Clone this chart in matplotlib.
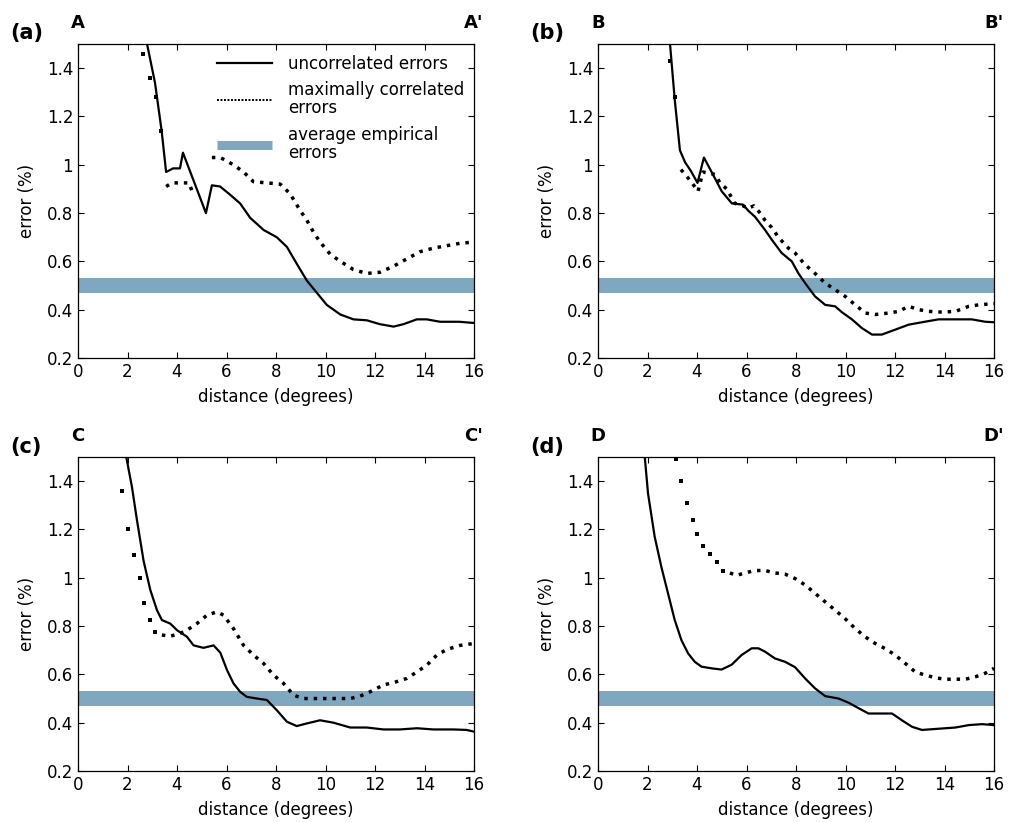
import numpy as np
import matplotlib
matplotlib.use("Agg")
import matplotlib.pyplot as plt
from matplotlib.lines import Line2D

nan = np.nan

# panel (a)
a_unc_x = [2.79, 3.11, 3.38, 3.56, 3.84, 4.12, 4.24, 5.17, 5.41, 5.74, 6.1, 6.55, 6.96, 7.5, 8.03,
           8.44, 8.84, 9.25, 9.65, 10.05, 10.6, 11.13, 11.67, 12.2, 12.75, 13.15, 13.69, 14.09,
           14.63, 15.4, 16.0]
a_unc_y = [1.5, 1.34, 1.14, 0.97, 0.985, 0.985, 1.05, 0.80, 0.915, 0.91, 0.88, 0.84, 0.78, 0.73, 0.70,
           0.66, 0.59, 0.52, 0.47, 0.42, 0.38, 0.36, 0.356, 0.34, 0.33, 0.34, 0.36, 0.36,
           0.35, 0.35, 0.345]
a_max_x = [2.63, 2.91, 3.15, 3.35, 3.56, 3.8, 4.04, 4.48, 4.65, nan, 5.41, 5.75, 6.28, 6.69, 7.09,
           7.63, 8.17, 8.57, 8.98, 9.25, 9.52, 9.78, 10.19, 10.6, 11.13, 11.67, 12.2, 12.75,
           13.28, 13.82, 14.36, 14.9, 15.44, 16.0]
a_max_y = [1.46, 1.36, 1.28, 1.14, 0.91, 0.925, 0.925, 0.925, 0.88, nan, 1.03, 1.03, 1.0, 0.97, 0.93,
           0.925, 0.92, 0.88, 0.81, 0.77, 0.72, 0.68, 0.63, 0.60, 0.566, 0.55, 0.555, 0.58,
           0.61, 0.64, 0.655, 0.665, 0.675, 0.68]

# panel (b)
b_unc_x = [2.91, 3.1, 3.31, 3.52, 3.75, 4.02, 4.28, 4.59, 5.0, 5.41, 5.86, 6.07, 6.34, 6.75, 7.02,
           7.42, 7.83, 8.1, 8.37, 8.77, 9.18, 9.58, 9.85, 10.26, 10.66, 11.07, 11.47, 12.0, 12.55,
           13.2, 13.76, 14.57, 15.1, 15.65, 16.0]
b_unc_y = [1.5, 1.27, 1.06, 1.01, 0.975, 0.925, 1.03, 0.97, 0.89, 0.84, 0.835, 0.81, 0.785, 0.73, 0.69,
           0.635, 0.60, 0.55, 0.51, 0.455, 0.42, 0.414, 0.39, 0.36, 0.324, 0.297, 0.297, 0.317, 0.338,
           0.35, 0.36, 0.36, 0.36, 0.35, 0.348]
b_max_x = [2.91, 3.1, 3.35, 3.6, 3.8, 4.04, 4.24, 4.73, 4.93, 5.2, 5.53, 5.86, 6.06, 6.3, 6.55,
           6.75, 7.02, 7.29, 7.69, 7.96, 8.37, 8.77, 9.18, 9.58, 9.99, 10.39, 10.8, 11.2, 11.74,
           12.15, 12.55, 12.96, 13.36, 13.9, 14.44, 14.98, 15.38, 16.0]
b_max_y = [1.43, 1.28, 0.98, 0.95, 0.925, 0.89, 0.97, 0.96, 0.925, 0.90, 0.84, 0.83, 0.82, 0.83, 0.80,
           0.77, 0.74, 0.70, 0.655, 0.635, 0.586, 0.55, 0.51, 0.483, 0.455, 0.42, 0.386, 0.38, 0.386,
           0.393, 0.414, 0.40, 0.393, 0.39, 0.393, 0.414, 0.42, 0.425]

# panel (c)
c_unc_x = [1.95, 2.18, 2.38, 2.65, 2.92, 3.19, 3.39, 3.73, 4.0, 4.4, 4.67, 5.07, 5.48, 5.75, 6.02,
           6.28, 6.55, 6.82, 7.23, 7.63, 8.03, 8.44, 8.84, 9.25, 9.78, 10.32, 11.0, 11.67, 12.34,
           13.0, 13.7, 14.36, 15.17, 15.7, 16.0]
c_unc_y = [1.5, 1.376, 1.24, 1.07, 0.95, 0.866, 0.825, 0.81, 0.783, 0.756, 0.72, 0.71, 0.72, 0.69, 0.618,
           0.563, 0.528, 0.507, 0.50, 0.494, 0.452, 0.404, 0.386, 0.397, 0.41, 0.40, 0.38, 0.38, 0.372,
           0.372, 0.377, 0.372, 0.372, 0.37, 0.363]
c_max_x = [1.78, 2.0, 2.25, 2.49, 2.68, 2.92, 3.12, 3.39, 3.73, 4.13, 4.4, 4.8, 5.21, 5.61, 5.88,
           6.28, 6.69, 7.09, 7.5, 7.9, 8.3, 8.71, 9.11, 9.65, 10.32, 11.0, 11.4, 11.8, 12.34,
           12.88, 13.28, 13.69, 14.09, 14.5, 14.9, 15.44, 16.0]
c_max_y = [1.36, 1.2, 1.093, 0.997, 0.896, 0.824, 0.776, 0.763, 0.758, 0.77, 0.783, 0.81, 0.845, 0.859, 0.845,
           0.79, 0.72, 0.68, 0.645, 0.597, 0.563, 0.514, 0.50, 0.50, 0.50, 0.50, 0.51, 0.528, 0.556,
           0.57, 0.583, 0.61, 0.638, 0.68, 0.703, 0.72, 0.728]

# panel (d)
d_unc_x = [1.89, 2.02, 2.29, 2.56, 2.83, 3.1, 3.37, 3.64, 3.91, 4.18, 4.59, 4.99, 5.4, 5.8, 6.21,
           6.48, 6.75, 7.15, 7.56, 7.96, 8.37, 8.77, 9.18, 9.72, 10.12, 10.53, 10.93, 11.34, 11.88,
           12.28, 12.69, 13.09, 13.63, 14.44, 14.98, 15.52, 16.0]
d_unc_y = [1.5, 1.35, 1.17, 1.045, 0.935, 0.825, 0.742, 0.687, 0.652, 0.632, 0.625, 0.62, 0.64, 0.68, 0.708,
           0.708, 0.694, 0.666, 0.652, 0.63, 0.583, 0.542, 0.51, 0.50, 0.483, 0.46, 0.438, 0.438, 0.438,
           0.41, 0.383, 0.37, 0.374, 0.38, 0.39, 0.394, 0.39]
d_max_x = [3.17, 3.35, 3.58, 3.85, 4.02, 4.25, 4.52, 4.79, 5.06, 5.33, 5.6, 5.94, 6.34, 6.75, 7.15,
           7.56, 7.96, 8.37, 8.77, 9.18, 9.58, 9.99, 10.39, 10.8, 11.2, 11.6, 12.01, 12.42, 12.82,
           13.22, 13.63, 14.04, 14.44, 14.84, 15.25, 15.65, 16.0]
d_max_y = [1.49, 1.4, 1.31, 1.24, 1.18, 1.13, 1.1, 1.066, 1.03, 1.02, 1.01, 1.02, 1.03, 1.03, 1.02,
           1.015, 0.997, 0.97, 0.936, 0.9, 0.866, 0.83, 0.79, 0.755, 0.728, 0.707, 0.68, 0.645, 0.61,
           0.597, 0.586, 0.58, 0.58, 0.58, 0.59, 0.605, 0.625]

panel_tags = ["(a)", "(b)", "(c)", "(d)"]
end_labels = [("A", "A'"), ("B", "B'"), ("C", "C'"), ("D", "D'")]
band_lo, band_hi = 0.47, 0.53
x_ticks = [0, 2, 4, 6, 8, 10, 12, 14, 16]
y_ticks = [0.2, 0.4, 0.6, 0.8, 1.0, 1.2, 1.4]
y_tick_labels = ["0.2", "0.4", "0.6", "0.8", "1", "1.2", "1.4"]
legend_labels = ["uncorrelated errors", "maximally correlated\nerrors", "average empirical\nerrors"]

band_color = "#7fa8c0"

panels = [
    (a_unc_x, a_unc_y, a_max_x, a_max_y),
    (b_unc_x, b_unc_y, b_max_x, b_max_y),
    (c_unc_x, c_unc_y, c_max_x, c_max_y),
    (d_unc_x, d_unc_y, d_max_x, d_max_y),
]
# on the steep start the dotted curve shows as separate dots only
sparse_n = [4, 2, 7, 9]

fig = plt.figure(figsize=(10.1, 8.22), dpi=100)
W, H = 1010, 822
rects = [(78, 44), (598, 44), (78, 457), (598, 457)]
tag_pos = [(10, 33), (530, 33), (10, 447), (530, 447)]

for i, (ux, uy, mx, my) in enumerate(panels):
    left, top = rects[i]
    ax = fig.add_axes([left / W, 1 - (top + 314) / H, 396 / W, 314 / H])
    ax.axhspan(band_lo, band_hi, color=band_color, lw=0, zorder=1)
    ax.plot(ux, uy, color="black", lw=1.6, zorder=3)
    n = sparse_n[i]
    ax.plot(mx[:n], my[:n], ls="none", marker="s", ms=3.0, mew=0, color="black", zorder=3)
    ax.plot(mx[n:], my[n:], color="black", lw=2.5, ls=(0, (1, 1.7)),
            dash_capstyle="butt", zorder=3)
    ax.set_xlim(0, 16)
    ax.set_ylim(0.2, 1.5)
    ax.set_xticks(x_ticks)
    ax.set_yticks(y_ticks)
    ax.set_yticklabels(y_tick_labels)
    ax.tick_params(direction="in", top=True, right=True, length=4, width=0.8,
                   labelsize=12, colors="black")
    for s in ax.spines.values():
        s.set_linewidth(0.9)
    ax.set_xlabel("distance (degrees)", fontsize=12, labelpad=5)
    ax.set_ylabel("error (%)", fontsize=12, labelpad=8)
    ax.text(0, 1.068, end_labels[i][0], transform=ax.transAxes, ha="center", va="center",
            fontsize=13, fontweight="bold")
    ax.text(1, 1.068, end_labels[i][1], transform=ax.transAxes, ha="center", va="center",
            fontsize=13, fontweight="bold")
    tx, ty = tag_pos[i]
    fig.text(tx / W, 1 - ty / H, panel_tags[i], ha="left", va="center",
             fontsize=15, fontweight="bold")

    if i == 0:
        handles = [
            Line2D([], [], color="black", lw=1.6),
            Line2D([], [], color="black", lw=1.4, ls=(0, (1, 0.8)), dash_capstyle="butt"),
            Line2D([], [], color=band_color, lw=6.5, solid_capstyle="butt"),
        ]
        leg = ax.legend(handles, legend_labels, loc="upper left", bbox_to_anchor=(0.351, 0.965),
                        frameon=False, fontsize=12, borderpad=0, handlelength=3.3,
                        handletextpad=0.95, labelspacing=0.5, borderaxespad=0)
        for t in leg.get_texts():
            t.set_linespacing(1.0)

plt.savefig("out.png", dpi=100)
